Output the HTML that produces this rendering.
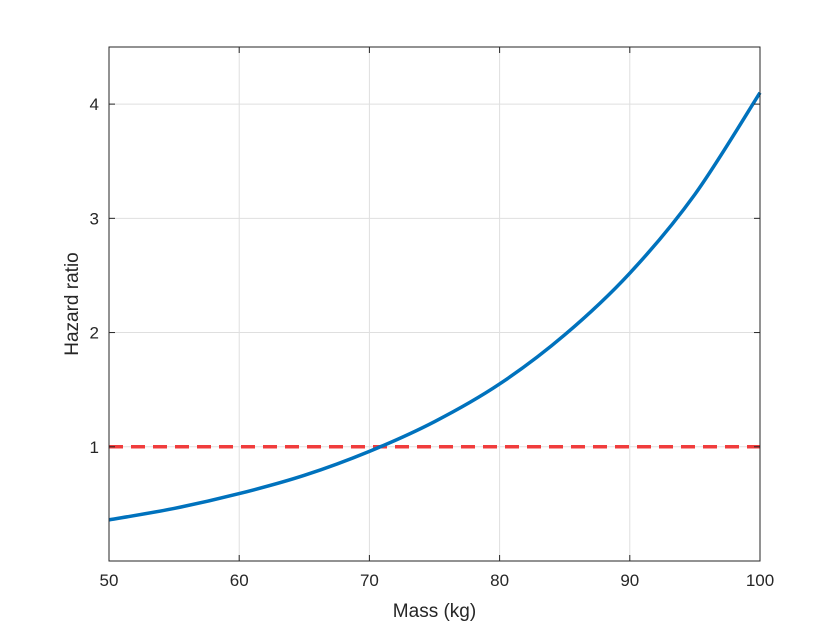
<!DOCTYPE html>
<html><head><meta charset="utf-8"><style>
html,body{margin:0;padding:0;background:#fff;}
svg text{font-family:"Liberation Sans",Arial,sans-serif;fill:#262626;}
</style></head><body>
<svg id="chart" width="840" height="630" viewBox="0 0 840 630" xmlns="http://www.w3.org/2000/svg">
<rect x="0" y="0" width="840" height="630" fill="#fff"/>
<g id="grid"></g>
<g id="series"></g>
<rect x="109" y="47" width="651" height="514" fill="none" stroke="#262626" stroke-width="1"/>
<g id="ticks"></g>
<text x="434.5" y="617" font-size="19" text-anchor="middle">Mass (kg)</text>
<text transform="translate(78,304) rotate(-90)" font-size="19" text-anchor="middle">Hazard ratio</text>
</svg>
<script>
const massValues = [50,55,60,65,70,75,80,85,90,95,100];
const hazardValues = [0.36,0.46,0.59,0.75,0.96,1.22,1.55,1.98,2.52,3.21,4.1];
const referenceValue = [1];
const xTicks = [50,60,70,80,90,100];
const yTicks = [1,2,3,4];
const xMin=50,xMax=100,yMin=0,yMax=4.5;
const L=109,R=760,T=47,B=561;
const NS="http://www.w3.org/2000/svg";
const sx=v=>L+(v-xMin)/(xMax-xMin)*(R-L);
const sy=v=>B-(v-yMin)/(yMax-yMin)*(B-T);
function mk(tag,attrs,parent){const e=document.createElementNS(NS,tag);for(const k in attrs)e.setAttribute(k,attrs[k]);parent.appendChild(e);return e;}
const grid=document.getElementById('grid'),ticks=document.getElementById('ticks'),series=document.getElementById('series');
xTicks.forEach(v=>{
  const x=sx(v);
  const g=mk('line',{x1:x,x2:x,y1:T,y2:B,stroke:'#dfdfdf','stroke-width':1},grid);
  
  
  const t1=mk('line',{x1:x,x2:x,y1:B,y2:B-6,stroke:'#262626'},ticks);
  
  
  const t2=mk('line',{x1:x,x2:x,y1:T,y2:T+6,stroke:'#262626'},ticks);
  
  
  const lb=mk('text',{x:x,y:B+25,'font-size':17,'text-anchor':'middle'},ticks);
  lb.textContent=v;
  
  
});
yTicks.forEach(v=>{
  const y=sy(v);
  const g=mk('line',{x1:L,x2:R,y1:y,y2:y,stroke:'#dfdfdf','stroke-width':1},grid);
  
  
  const t1=mk('line',{x1:L,x2:L+6,y1:y,y2:y,stroke:'#262626'},ticks);
  
  
  const t2=mk('line',{x1:R,x2:R-6,y1:y,y2:y,stroke:'#262626'},ticks);
  
  
  const lb=mk('text',{x:L-10,y:y+6,'font-size':17,'text-anchor':'end'},ticks);
  lb.textContent=v;
  
  
});
// reference line
const ref=mk('line',{x1:sx(xMin),x2:sx(xMax),y1:sy(referenceValue[0]),y2:sy(referenceValue[0]),stroke:'#f03c3c','stroke-width':3.5,'stroke-dasharray':'14,8'},series);


// smooth curve (Catmull-Rom)
const pts=massValues.map((m,i)=>[sx(m),sy(hazardValues[i])]);
let d=`M${pts[0][0]},${pts[0][1]}`;
for(let i=0;i<pts.length-1;i++){
  const p0=pts[i-1]||pts[i],p1=pts[i],p2=pts[i+1],p3=pts[i+2]||p2;
  const c1=[p1[0]+(p2[0]-p0[0])/6,p1[1]+(p2[1]-p0[1])/6];
  const c2=[p2[0]-(p3[0]-p1[0])/6,p2[1]-(p3[1]-p1[1])/6];
  d+=` C${c1[0]},${c1[1]} ${c2[0]},${c2[1]} ${p2[0]},${p2[1]}`;
}
const curve=mk('path',{d:d,fill:'none',stroke:'#0072bd','stroke-width':3.5},series);


</script>
</body></html>
